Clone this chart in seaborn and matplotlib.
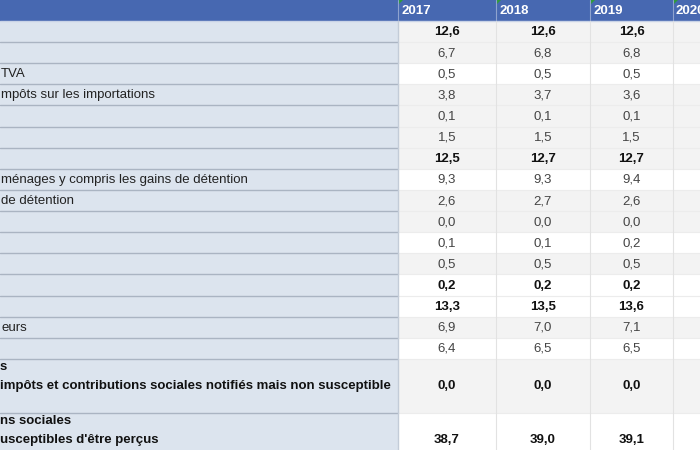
import numpy as np
import seaborn as sns
import matplotlib.pyplot as plt
from matplotlib.patches import Rectangle, Polygon

years = ["2017", "2018", "2019", "2020"]
labels = [
    [""], [""], ["TVA"], ["mpôts sur les importations"], [""], [""], [""],
    ["ménages y compris les gains de détention"], ["de détention"],
    [""], [""], [""], [""], [""], ["eurs"], [""],
    ["s", "impôts et contributions sociales notifiés mais non susceptible"],
    ["ns sociales", "usceptibles d'être perçus"],
]
v2017 = [12.6, 6.7, 0.5, 3.8, 0.1, 1.5, 12.5, 9.3, 2.6, 0.0, 0.1, 0.5, 0.2, 13.3, 6.9, 6.4, 0.0, 38.7]
v2018 = [12.6, 6.8, 0.5, 3.7, 0.1, 1.5, 12.7, 9.3, 2.7, 0.0, 0.1, 0.5, 0.2, 13.5, 7.0, 6.5, 0.0, 39.0]
v2019 = [12.6, 6.8, 0.5, 3.6, 0.1, 1.5, 12.7, 9.4, 2.6, 0.0, 0.2, 0.5, 0.2, 13.6, 7.1, 6.5, 0.0, 39.1]
v2020 = [None] * 18   # column is cut off at the right edge
bold_rows = [0, 6, 12, 13, 16, 17]

# ---- layout / style ----
row_h = [21.12] * 16 + [54, 54]
header_h = 21
col_x = [398, 496, 590, 673, 770]
shade = [1, 1, 0, 1, 1, 1, 1, 0, 1, 1, 0, 1, 0, 0, 1, 0, 1, 0]
blue = "#4768b1"
label_bg = "#dce4ee"
fs = 9.5

sns.set_theme(style="white")
plt.rcParams['font.family'] = ['Liberation Sans', 'DejaVu Sans']

fig = plt.figure(figsize=(7, 4.5), dpi=100)
ax = fig.add_axes([0, 0, 1, 1])
ax.set_xlim(0, 700)
ax.set_ylim(450, 0)
ax.axis("off")

# header band
ax.add_patch(Rectangle((0, 0), 700, header_h, color=blue, lw=0))
ax.axhline(header_h, color="#c9d3e6", lw=1)
for i, yr in enumerate(years):
    x0 = col_x[i]
    ax.plot([x0, x0], [0, header_h], color="#8fa3cf", lw=0.8)
    ax.add_patch(Polygon([[x0 + 0.5, 0], [x0 + 5, 0], [x0 + 0.5, 4.5]], color="#2f9a3a", lw=0))
    ax.text(x0 + 3, header_h / 2 + 1, yr, color="white", fontsize=fs, fontweight="bold",
            ha="left", va="center")

values = [v2017, v2018, v2019, v2020]
y = header_h
for r, h in enumerate(row_h):
    # label cell
    ax.add_patch(Rectangle((0, y), col_x[0], h, color=label_bg, lw=0))
    # data cells
    ax.add_patch(Rectangle((col_x[0], y), 700 - col_x[0], h,
                           color="#f3f3f3" if shade[r] else "white", lw=0))
    weight = "bold" if r in bold_rows else "normal"
    lines = labels[r]
    if len(lines) == 1:
        ax.text(1, y + h / 2 + 0.5, lines[0], fontsize=fs, color="#222222",
                ha="left", va="center", fontweight="normal", clip_on=True)
    else:
        for k, t in enumerate(lines):
            ax.text(0, y + 8.5 + k * 18.8, t, fontsize=fs, color="#111111",
                    ha="left", va="center", fontweight=weight, clip_on=True)
    for c, vals in enumerate(values):
        v = vals[r]
        if v is None:
            continue
        cx = (col_x[c] + col_x[c + 1]) / 2
        ax.text(cx, y + h / 2 + 0.5, f"{v:.1f}".replace(".", ","), fontsize=fs,
                color="#111111" if r in bold_rows else "#444444",
                ha="center", va="center", fontweight=weight)
    y += h
    ax.plot([0, col_x[0]], [y, y], color="#aab4c2", lw=1)
    ax.plot([col_x[0], 700], [y, y], color="#ececec", lw=0.8)

# column separators
ax.plot([col_x[0], col_x[0]], [header_h, 450], color="#c3ccd8", lw=1)
for x0 in col_x[1:4]:
    ax.plot([x0, x0], [header_h, 450], color="#e2e2e2", lw=0.8)

fig.savefig("out.png", dpi=100)
